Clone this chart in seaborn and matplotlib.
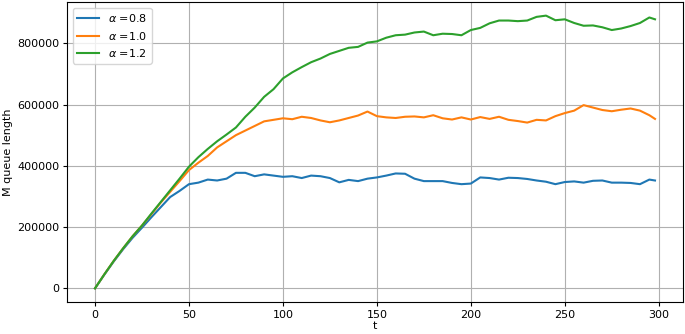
import numpy as np
import pandas as pd
import matplotlib
matplotlib.use("Agg")
import matplotlib.pyplot as plt
import seaborn as sns

t = list(range(0, 300, 5)) + [298]

blue_08 = [0, 45000, 88000, 128000, 165000, 198000, 232000, 265000, 298000, 318000,
           340000, 345000, 355000, 352000, 358000, 377000, 377000, 366000, 372000, 368000,
           364000, 366000, 360000, 368000, 366000, 360000, 346000, 354000, 350000, 358000,
           362000, 368000, 375000, 374000, 358000, 350000, 350000, 350000, 344000, 340000,
           342000, 362000, 360000, 355000, 361000, 360000, 357000, 352000, 348000, 340000,
           347000, 349000, 345000, 351000, 352000, 345000, 345000, 344000, 340000, 355000,
           352000]

orange_10 = [0, 46000, 90000, 131000, 170000, 205000, 242000, 280000, 315000, 350000,
             386000, 410000, 432000, 460000, 480000, 500000, 515000, 530000, 545000, 550000,
             555000, 552000, 560000, 556000, 548000, 542000, 548000, 556000, 564000, 577000,
             562000, 558000, 556000, 560000, 561000, 558000, 565000, 555000, 551000, 558000,
             551000, 559000, 553000, 560000, 550000, 546000, 541000, 550000, 548000, 562000,
             572000, 580000, 598000, 590000, 582000, 578000, 583000, 587000, 580000, 565000,
             553000]

green_12 = [0, 46000, 90000, 131000, 170000, 205000, 244000, 282000, 320000, 358000,
            397000, 428000, 455000, 480000, 502000, 525000, 560000, 590000, 625000, 650000,
            685000, 705000, 722000, 738000, 750000, 765000, 775000, 785000, 788000, 802000,
            806000, 818000, 826000, 828000, 835000, 838000, 826000, 831000, 830000, 826000,
            843000, 850000, 865000, 874000, 874000, 872000, 874000, 886000, 890000, 875000,
            878000, 866000, 857000, 858000, 852000, 843000, 848000, 856000, 866000, 884000,
            878000]

labels = [r"$\alpha$ =0.8", r"$\alpha$ =1.0", r"$\alpha$ =1.2"]
colors = ["#1f77b4", "#ff7f0e", "#2ca02c"]

df = pd.concat([
    pd.DataFrame({"t": t, "M": blue_08, "series": labels[0]}),
    pd.DataFrame({"t": t, "M": orange_10, "series": labels[1]}),
    pd.DataFrame({"t": t, "M": green_12, "series": labels[2]}),
])

plt.rcParams["font.size"] = 8
plt.rcParams["xtick.major.size"] = 2.8
plt.rcParams["ytick.major.size"] = 2.8
plt.rcParams["xtick.major.pad"] = 2.8
plt.rcParams["ytick.major.pad"] = 2.8
fig = plt.figure(figsize=(6.85, 3.34), dpi=100)
ax = fig.add_axes([67/685, 1-302/334, (683-67)/685, 300/334])
sns.lineplot(data=df, x="t", y="M", hue="series", palette=colors, ax=ax, linewidth=1.5)
ax.set_xticks([0, 50, 100, 150, 200, 250, 300])
ax.set_yticks([0, 200000, 400000, 600000, 800000])
ax.set_yticklabels(["0", "200000", "400000", "600000", "800000"])
ax.set_xlabel("t", labelpad=1)
ax.set_ylabel("M queue length", labelpad=3)
ax.grid(True, color="#b0b0b0", linewidth=0.8)
ax.legend(loc="upper left", title=None)
ax.margins(x=0.05, y=0.05)
fig.savefig("out.png", dpi=100)
